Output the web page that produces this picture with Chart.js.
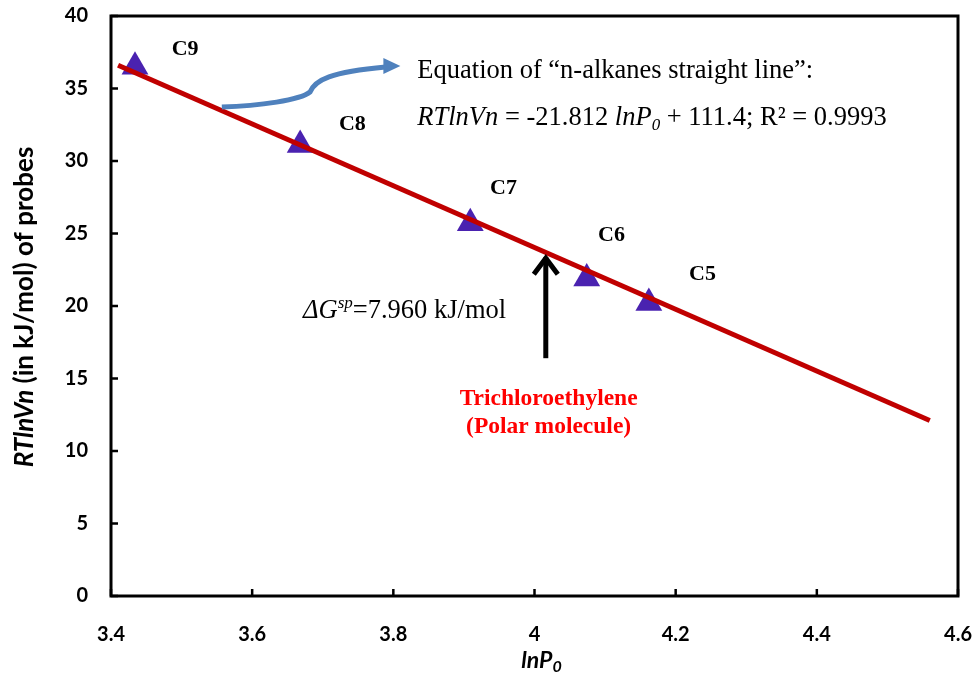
<!DOCTYPE html>
<html>
<head>
<meta charset="utf-8">
<script src="https://cdn.jsdelivr.net/npm/chart.js@4/dist/chart.umd.min.js"></script>
<style>
  body { margin: 0; background: #fff; }
  #wrap { width: 976px; height: 674px; }
</style>
</head>
<body>
<div id="wrap"><canvas id="ig" width="976" height="674"></canvas></div>
<script>
// probes (n-alkanes)
const probes = ["C9", "C8", "C7", "C6", "C5"];
const lnP0 = [3.434, 3.668, 3.909, 4.074, 4.162];
const rtlnvn = [36.5, 31.1, 25.7, 21.9, 20.2];
// where each probe label sits (data units, text centre)
const labelX = [3.505, 3.742, 3.956, 4.109, 4.238];
const labelY = [37.7, 32.5, 28.1, 24.9, 22.2];
// straight line ends
const fitX = [3.41, 4.56];
const fitY = [36.6, 12.1];
// axis ticks
const xTicks = [3.4, 3.6, 3.8, 4, 4.2, 4.4, 4.6];
const yTicks = [0, 5, 10, 15, 20, 25, 30, 35, 40];

const serif = "'Liberation Serif', 'Times New Roman', serif";
const sans = "Lato, 'Open Sans', sans-serif";

// draws a list of text pieces one after the other
function runs(ctx, x, y, parts, align) {
  let w = 0;
  parts.forEach(p => { ctx.font = p.font; w += ctx.measureText(p.t).width; });
  let cx = align === "center" ? x - w / 2 : x;
  parts.forEach(p => {
    ctx.font = p.font;
    ctx.fillText(p.t, cx, y + (p.dy || 0));
    cx += ctx.measureText(p.t).width;
  });
}

const extras = {
  id: "extras",
  afterDatasetsDraw(chart) {
    const ctx = chart.ctx, a = chart.chartArea;
    const xs = chart.scales.x, ys = chart.scales.y;
    const px = v => xs.getPixelForValue(v), py = v => ys.getPixelForValue(v);
    ctx.save();

    // frame
    ctx.strokeStyle = "#000";
    ctx.lineWidth = 3;
    ctx.strokeRect(a.left, a.top, a.right - a.left, a.bottom - a.top);
    // inward ticks
    ctx.lineWidth = 2.5;
    ctx.beginPath();
    xTicks.forEach(v => { ctx.moveTo(px(v), a.bottom); ctx.lineTo(px(v), a.bottom - 7); });
    yTicks.forEach(v => { ctx.moveTo(a.left, py(v)); ctx.lineTo(a.left + 7, py(v)); });
    ctx.stroke();

    // probe labels
    ctx.fillStyle = "#000";
    ctx.textBaseline = "middle";
    ctx.textAlign = "center";
    ctx.font = "bold 22px " + serif;
    probes.forEach((p, i) => ctx.fillText(p, px(labelX[i]), py(labelY[i])));

    // equation
    ctx.textBaseline = "alphabetic";
    ctx.textAlign = "left";
    const n = "26.5px " + serif, it = "italic 26.5px " + serif, sub = "italic 17px " + serif;
    runs(ctx, px(3.834), py(35.72), [{ t: "Equation of \u201cn-alkanes straight line\u201d:", font: n }]);
    runs(ctx, px(3.834), py(32.48), [
      { t: "RTlnVn", font: it }, { t: " = -21.812 ", font: n }, { t: "lnP", font: it },
      { t: "0", font: sub, dy: 5 }, { t: " + 111.4; R\u00b2 = 0.9993", font: n }
    ]);
    runs(ctx, px(3.672), py(19.17), [
      { t: "\u0394G", font: it }, { t: "sp", font: sub, dy: -10 }, { t: "=7.960 kJ/mol", font: n }
    ]);

    // polar probe
    ctx.fillStyle = "#ff0000";
    ctx.textAlign = "center";
    ctx.font = "bold 23.5px " + serif;
    ctx.fillText("Trichloroethylene", px(4.02), py(13.17));
    ctx.fillText("(Polar molecule)", px(4.02), py(11.24));

    // black arrow
    const ax = px(4.016), ay0 = py(16.4), ay1 = py(23.5);
    ctx.strokeStyle = "#000";
    ctx.lineWidth = 5;
    ctx.beginPath();
    ctx.moveTo(ax, ay0); ctx.lineTo(ax, ay1 + 2);
    ctx.stroke();
    ctx.lineJoin = "miter";
    ctx.beginPath();
    ctx.moveTo(ax - 12, ay1 + 19); ctx.lineTo(ax, ay1 + 3); ctx.lineTo(ax + 12, ay1 + 19);
    ctx.stroke();

    // blue curved arrow
    ctx.strokeStyle = "#4f81bd";
    ctx.fillStyle = "#4f81bd";
    ctx.lineWidth = 5;
    ctx.lineCap = "butt";
    ctx.beginPath();
    ctx.moveTo(px(3.557), py(33.72));
    ctx.bezierCurveTo(px(3.611), py(33.79), px(3.668), py(34.21), px(3.682), py(34.76));
    ctx.bezierCurveTo(px(3.689), py(35.59), px(3.711), py(36.14), px(3.789), py(36.48));
    ctx.stroke();
    const tx = px(3.810), ty = py(36.55);
    ctx.beginPath();
    ctx.moveTo(tx, ty); ctx.lineTo(tx - 17, ty - 8); ctx.lineTo(tx - 17, ty + 8);
    ctx.closePath();
    ctx.fill();

    // axis titles
    ctx.fillStyle = "#000";
    ctx.textBaseline = "middle";
    ctx.textAlign = "left";
    runs(ctx, (a.left + a.right) / 2 + 7, 661, [
      { t: "lnP", font: "bold italic 23px " + sans }, { t: "0", font: "bold italic 16px " + sans, dy: 6 }
    ], "center");
    ctx.translate(25, 307);
    ctx.rotate(-Math.PI / 2);
    runs(ctx, 0, 0, [
      { t: "RTlnVn", font: "bold italic 26px " + sans }, { t: " (in kJ/mol) of probes", font: "bold 26px " + sans }
    ], "center");
    ctx.restore();
  }
};

const pts = lnP0.map((x, i) => ({ x: x, y: rtlnvn[i] }));
const fit = fitX.map((x, i) => ({ x: x, y: fitY[i] }));

// tick marks are drawn by the plugin; the library's own ones only make the label gap
const hiddenTicks = (len) => ({
  display: true,
  drawOnChartArea: false,
  drawTicks: true,
  tickLength: len,
  color: "rgba(0,0,0,0)",
});

new Chart(document.getElementById("ig"), {
  type: "scatter",
  data: {
    datasets: [
      {
        label: "n-alkanes straight line",
        data: fit,
        showLine: true,
        borderColor: "#c00000",
        borderWidth: 5,
        pointRadius: 0,
        order: 0,
      },
      {
        label: "n-alkanes",
        data: pts,
        pointStyle: "triangle",
        pointRadius: 15.5,
        backgroundColor: "#4a22b0",
        borderColor: "#4a22b0",
        borderWidth: 0,
        order: 1,
      },
    ],
  },
  options: {
    responsive: false,
    animation: false,
    layout: { padding: { top: 16, right: 18, left: 0, bottom: 0 } },
    plugins: { legend: { display: false }, tooltip: { enabled: false } },
    scales: {
      x: {
        type: "linear",
        min: 3.4,
        max: 4.6,
        afterBuildTicks: s => { s.ticks = xTicks.map(v => ({ value: v })); },
        afterFit: s => { s.height = 78; },
        grid: hiddenTicks(24),
        border: { display: false },
        ticks: {
          padding: 3,
          color: "#000",
          font: { family: sans, weight: "bold", size: 20 },
          callback: v => String(Number(v.toFixed(1))),
        },
      },
      y: {
        min: 0,
        max: 40,
        afterBuildTicks: s => { s.ticks = yTicks.map(v => ({ value: v })); },
        afterFit: s => { s.width = 111; },
        grid: hiddenTicks(20),
        border: { display: false },
        ticks: {
          padding: 3,
          color: "#000",
          font: { family: sans, weight: "bold", size: 20 },
        },
      },
    },
  },
  plugins: [extras],
});
</script>
</body>
</html>
